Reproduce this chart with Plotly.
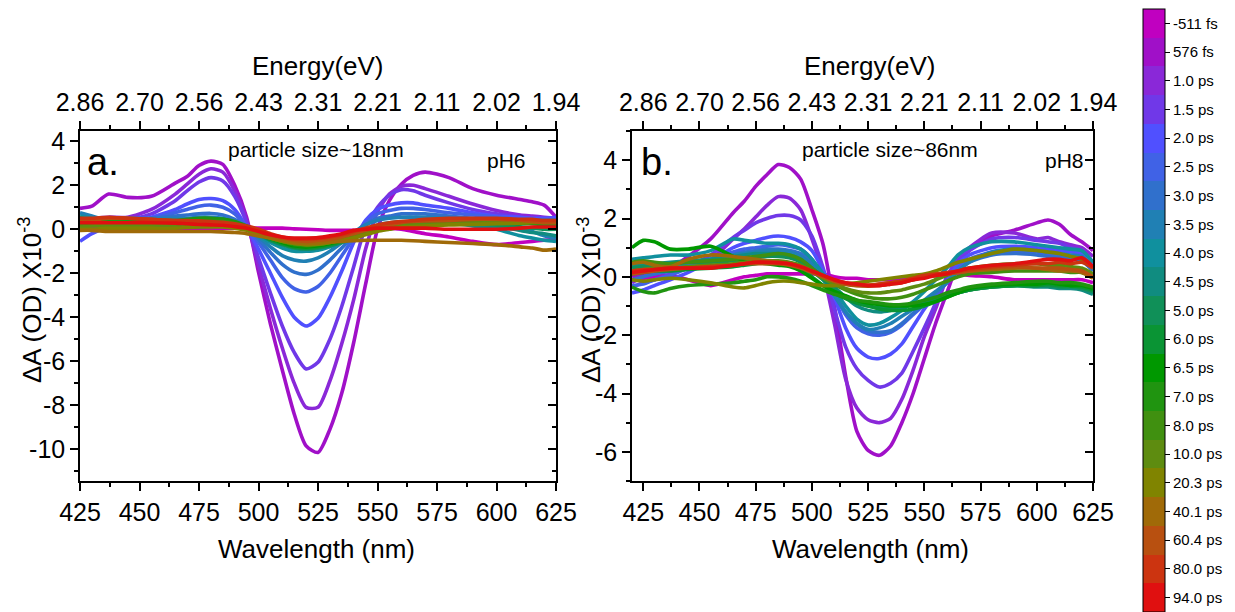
import plotly.graph_objects as go

FONT = "Liberation Sans, Arial, sans-serif"
W, H = 1235, 612

# ---------------- data ----------------
DELAY_LABELS = ["-511 fs", "576 fs", "1.0 ps", "1.5 ps", "2.0 ps", "2.5 ps", "3.0 ps",
                "3.5 ps", "4.0 ps", "4.5 ps", "5.0 ps", "6.0 ps", "6.5 ps", "7.0 ps",
                "8.0 ps", "10.0 ps", "20.3 ps", "40.1 ps", "60.4 ps", "80.0 ps", "94.0 ps"]
DELAY_COLORS = ["#C000C0", "#A010C8", "#8A28D8", "#7038E8", "#5050FF", "#4062E6", "#3070CC",
                "#2080B4", "#10909E", "#108C80", "#109058", "#0A9434", "#009800", "#209410",
                "#409010", "#5E8C10", "#808400", "#A06A08", "#B85010", "#CC3410", "#E01010"]

WL_TICKS = [425, 450, 475, 500, 525, 550, 575, 600, 625]
ENERGY_LABELS = ["2.86", "2.70", "2.56", "2.43", "2.31", "2.21", "2.11", "2.02", "1.94"]
YTICKS_A = [-10, -8, -6, -4, -2, 0, 2, 4]
YTICKS_B = [-6, -4, -2, 0, 2, 4]

# panel a (particle size ~18 nm, pH6)
WL_A = [425, 430, 437, 445, 455, 465, 470, 475, 480, 485, 490, 495, 500, 505, 510, 515, 520,
        525, 530, 535, 540, 545, 550, 555, 560, 565, 570, 580, 590, 600, 610, 615, 620, 625]
A_N511 = [0.15, 0.1, 0.1, 0.1, 0.05, 0.05, 0.05, 0.05, 0.05, 0.05, 0.05, 0.05, 0.05, 0.05, 0.05, 0.02, 0.0,
          -0.02, -0.05, -0.05, -0.05, 0.0, 0.05, 0.05, 0.0, -0.1, -0.2, -0.35, -0.55, -0.7, -0.6, -0.55, -0.5, -0.45]
A_576 = [0.95, 1.05, 1.6, 1.45, 1.5, 2.1, 2.4, 2.9, 3.1, 2.95, 2.0, 0.55, -1.95, -4.3, -6.4, -8.4, -9.85,
         -10.15, -9.1, -7.45, -5.15, -2.5, 0.0, 1.3, 2.05, 2.45, 2.6, 2.35, 1.85, 1.55, 1.35, 1.25, 1.1, 0.55]
A_1P0 = [0.45, 0.5, 0.55, 0.55, 0.9, 1.6, 2.05, 2.5, 2.75, 2.6, 1.75, 0.4, -1.65, -3.6, -5.4, -7.0, -8.1,
         -8.1, -6.9, -5.2, -3.2, -0.9, 0.8, 1.6, 1.95, 2.0, 1.85, 1.5, 1.15, 0.85, 0.65, 0.6, 0.55, 0.5]
A_1P5 = [0.3, 0.35, 0.4, 0.45, 0.7, 1.3, 1.75, 2.15, 2.35, 2.2, 1.5, 0.3, -1.3, -2.9, -4.4, -5.6, -6.35,
         -6.05, -5.0, -3.5, -1.7, 0.1, 1.0, 1.55, 1.8, 1.75, 1.55, 1.2, 0.9, 0.7, 0.55, 0.5, 0.5, 0.45]
A_2P0 = [-0.55, -0.2, 0.1, 0.3, 0.55, 0.9, 1.15, 1.35, 1.4, 1.3, 0.9, 0.1, -0.9, -2.0, -3.1, -4.0, -4.4,
         -4.05, -3.1, -1.9, -0.6, 0.4, 0.9, 1.1, 1.2, 1.2, 1.1, 0.95, 0.75, 0.6, 0.55, 0.5, 0.5, 0.55]
A_2P5 = [0.2, 0.3, 0.35, 0.4, 0.5, 0.75, 0.9, 1.05, 1.1, 1.0, 0.7, 0.1, -0.6, -1.4, -2.2, -2.7, -2.85,
         -2.6, -2.0, -1.2, -0.4, 0.3, 0.7, 0.85, 0.95, 0.95, 0.9, 0.75, 0.65, 0.55, 0.45, 0.45, 0.4, 0.4]
A_3P0 = [0.5, 0.5, 0.5, 0.5, 0.5, 0.6, 0.65, 0.7, 0.72, 0.65, 0.45, 0.05, -0.45, -1.05, -1.6, -1.95, -2.05,
         -1.85, -1.4, -0.85, -0.3, 0.2, 0.5, 0.6, 0.7, 0.7, 0.7, 0.6, 0.5, 0.45, 0.4, 0.35, 0.35, 0.35]
A_3P5 = [0.75, 0.6, 0.4, 0.4, 0.45, 0.5, 0.5, 0.55, 0.55, 0.5, 0.35, 0.0, -0.35, -0.8, -1.2, -1.4, -1.45,
         -1.3, -1.0, -0.6, -0.15, 0.2, 0.4, 0.5, 0.55, 0.55, 0.55, 0.5, 0.4, 0.3, 0.1, -0.1, -0.3, -0.4]
A_4P0 = [0.6, 0.5, 0.3, 0.25, 0.2, 0.2, 0.25, 0.3, 0.3, 0.3, 0.2, 0.0, -0.3, -0.6, -0.85, -1.0, -1.0,
         -0.95, -0.8, -0.55, -0.25, 0.0, 0.2, 0.3, 0.35, 0.35, 0.35, 0.3, 0.15, 0.0, -0.3, -0.4, -0.5, -0.55]
A_4P5 = [0.4, 0.35, 0.25, 0.2, 0.15, 0.1, 0.1, 0.12, 0.15, 0.15, 0.1, 0.0, -0.25, -0.5, -0.7, -0.85, -0.9,
         -0.85, -0.75, -0.55, -0.35, -0.1, 0.1, 0.2, 0.3, 0.3, 0.3, 0.3, 0.2, 0.1, -0.05, -0.15, -0.2, -0.3]
A_5P0 = [0.2, 0.2, 0.15, 0.15, 0.1, 0.1, 0.12, 0.15, 0.2, 0.2, 0.15, 0.0, -0.2, -0.5, -0.7, -0.85, -0.9,
         -0.85, -0.75, -0.6, -0.4, -0.2, 0.0, 0.12, 0.25, 0.28, 0.3, 0.3, 0.25, 0.2, 0.1, 0.05, 0.0, 0.0]
A_6P0 = [0.3, 0.3, 0.3, 0.25, 0.25, 0.25, 0.3, 0.3, 0.35, 0.35, 0.25, 0.05, -0.2, -0.45, -0.65, -0.8, -0.85,
         -0.8, -0.7, -0.55, -0.4, -0.2, -0.05, 0.1, 0.2, 0.25, 0.28, 0.3, 0.3, 0.3, 0.25, 0.25, 0.2, 0.2]
A_6P5 = [0.4, 0.4, 0.35, 0.35, 0.35, 0.35, 0.4, 0.45, 0.45, 0.45, 0.3, 0.1, -0.15, -0.4, -0.6, -0.75, -0.8,
         -0.75, -0.65, -0.5, -0.35, -0.15, 0.0, 0.15, 0.25, 0.3, 0.35, 0.4, 0.4, 0.35, 0.35, 0.3, 0.3, 0.3]
A_7P0 = [0.5, 0.45, 0.4, 0.4, 0.4, 0.4, 0.45, 0.5, 0.5, 0.45, 0.35, 0.15, -0.1, -0.35, -0.55, -0.7, -0.75,
         -0.7, -0.6, -0.45, -0.3, -0.1, 0.05, 0.2, 0.3, 0.35, 0.4, 0.45, 0.45, 0.4, 0.4, 0.35, 0.35, 0.35]
A_8P0 = [0.2, 0.25, 0.3, 0.3, 0.3, 0.3, 0.3, 0.35, 0.35, 0.35, 0.25, 0.05, -0.15, -0.4, -0.55, -0.65, -0.7,
         -0.65, -0.55, -0.45, -0.3, -0.15, 0.0, 0.1, 0.2, 0.25, 0.28, 0.3, 0.32, 0.35, 0.38, 0.4, 0.4, 0.4]
A_10P0 = [0.1, 0.15, 0.2, 0.2, 0.2, 0.2, 0.22, 0.25, 0.25, 0.25, 0.15, 0.0, -0.2, -0.4, -0.55, -0.65, -0.7,
          -0.68, -0.6, -0.5, -0.35, -0.2, -0.05, 0.05, 0.15, 0.2, 0.22, 0.25, 0.28, 0.3, 0.32, 0.35, 0.35, 0.35]
A_20P3 = [0.0, 0.0, 0.05, 0.05, 0.05, 0.05, 0.08, 0.1, 0.1, 0.1, 0.05, -0.05, -0.2, -0.4, -0.55, -0.65, -0.7,
          -0.68, -0.6, -0.5, -0.4, -0.25, -0.1, 0.0, 0.1, 0.12, 0.15, 0.2, 0.22, 0.25, 0.28, 0.3, 0.3, 0.3]
A_40P1 = [-0.05, -0.05, -0.1, -0.1, -0.1, -0.1, -0.1, -0.1, -0.1, -0.12, -0.15, -0.2, -0.3, -0.4, -0.5, -0.6, -0.65,
          -0.62, -0.58, -0.55, -0.52, -0.5, -0.5, -0.5, -0.5, -0.52, -0.55, -0.6, -0.65, -0.7, -0.8, -0.85, -0.95, -0.9]
A_60P4 = [0.35, 0.4, 0.5, 0.5, 0.45, 0.4, 0.35, 0.35, 0.3, 0.28, 0.2, 0.1, -0.05, -0.25, -0.4, -0.5, -0.55,
          -0.5, -0.45, -0.35, -0.2, -0.05, 0.1, 0.2, 0.3, 0.35, 0.38, 0.4, 0.45, 0.45, 0.4, 0.35, 0.3, 0.3]
A_80P0 = [0.5, 0.5, 0.55, 0.5, 0.45, 0.4, 0.4, 0.38, 0.35, 0.32, 0.25, 0.15, 0.0, -0.2, -0.35, -0.45, -0.45,
          -0.42, -0.35, -0.25, -0.1, 0.05, 0.2, 0.3, 0.35, 0.4, 0.45, 0.5, 0.5, 0.5, 0.45, 0.45, 0.4, 0.4]
A_94P0 = [0.3, 0.3, 0.3, 0.3, 0.3, 0.28, 0.25, 0.22, 0.2, 0.18, 0.12, 0.05, -0.1, -0.25, -0.35, -0.4, -0.4,
          -0.38, -0.3, -0.2, -0.05, 0.0, 0.05, 0.05, 0.05, 0.05, 0.05, 0.0, 0.0, 0.0, 0.05, 0.1, 0.1, 0.1]

# panel b (particle size ~86 nm, pH8)
WL_B = [420, 425, 430, 437, 445, 455, 465, 470, 475, 480, 485, 490, 495, 500, 505, 510, 515, 520,
        525, 530, 535, 540, 545, 550, 555, 560, 565, 570, 580, 590, 600, 605, 610, 615, 620, 625]
B_N511 = [-0.1, -0.05, 0.0, 0.05, -0.1, -0.3, -0.1, 0.0, 0.05, 0.1, 0.1, 0.1, 0.1, 0.1, 0.1, 0.0, -0.05, -0.05,
          -0.1, -0.1, -0.1, -0.05, 0.0, 0.05, 0.1, 0.1, 0.1, 0.05, 0.0, -0.1, -0.1, -0.1, -0.1, -0.1, -0.1, -0.2]
B_576 = [0.0, 0.1, 0.2, 0.3, 0.7, 1.3, 2.2, 2.6, 3.1, 3.5, 3.85, 3.75, 3.35, 2.3, 1.1, -1.0, -3.4, -5.3,
         -5.95, -6.12, -5.8, -5.0, -4.0, -2.8, -1.6, -0.55, 0.45, 0.9, 1.4, 1.6, 1.85, 1.95, 1.8, 1.45, 1.2, 0.9]
B_1P0 = [-0.2, 0.0, 0.1, 0.2, 0.35, 0.6, 1.3, 1.65, 2.05, 2.45, 2.75, 2.7, 2.3, 1.3, 0.15, -1.6, -3.5, -4.5,
         -4.9, -5.0, -4.85, -4.2, -3.2, -2.05, -1.1, -0.05, 0.6, 1.0, 1.5, 1.5, 1.3, 1.35, 1.2, 1.1, 1.0, 0.7]
B_1P5 = [-0.35, -0.2, -0.1, 0.1, 0.35, 0.75, 1.35, 1.6, 1.85, 2.0, 2.1, 2.1, 1.95, 1.4, 0.3, -1.1, -2.4, -3.15,
         -3.55, -3.78, -3.65, -3.3, -2.55, -1.75, -0.9, 0.0, 0.6, 0.9, 1.3, 1.35, 1.25, 1.2, 1.15, 1.0, 0.9, 0.5]
B_2P0 = [-0.55, -0.45, -0.3, -0.1, 0.15, 0.55, 1.0, 1.15, 1.25, 1.35, 1.4, 1.35, 1.2, 0.9, 0.2, -0.7, -1.75, -2.45,
         -2.75, -2.8, -2.65, -2.3, -1.7, -1.1, -0.6, -0.15, 0.45, 0.75, 1.0, 1.05, 1.0, 0.95, 0.9, 0.85, 0.8, 0.4]
B_2P5 = [-0.3, -0.25, -0.1, 0.05, 0.3, 0.6, 0.85, 0.95, 1.0, 1.05, 1.1, 1.05, 0.95, 0.6, 0.0, -0.6, -1.3, -1.75,
         -1.95, -2.0, -1.9, -1.65, -1.3, -0.95, -0.6, -0.2, 0.3, 0.6, 0.85, 0.9, 0.85, 0.8, 0.75, 0.7, 0.65, 0.3]
B_3P0 = [-0.1, 0.0, 0.1, 0.2, 0.35, 0.55, 0.75, 0.85, 0.9, 0.95, 0.95, 0.9, 0.8, 0.5, -0.05, -0.6, -1.2, -1.6,
         -1.85, -1.9, -1.85, -1.6, -1.25, -0.9, -0.55, -0.2, 0.2, 0.5, 0.75, 0.8, 0.75, 0.7, 0.65, 0.6, 0.55, 0.2]
B_3P5 = [0.2, 0.25, 0.3, 0.35, 0.45, 0.6, 0.75, 0.8, 0.85, 0.9, 0.9, 0.85, 0.7, 0.4, -0.1, -0.65, -1.2, -1.6,
         -1.8, -1.75, -1.6, -1.35, -1.1, -0.8, -0.5, -0.2, 0.2, 0.5, 0.85, 0.95, 0.9, 0.85, 0.8, 0.75, 0.7, 0.3]
B_4P0 = [0.6, 0.65, 0.7, 0.75, 0.75, 0.9, 1.3, 1.25, 1.2, 1.15, 1.15, 1.1, 0.95, 0.6, 0.1, -0.45, -1.0, -1.45,
         -1.65, -1.6, -1.4, -1.15, -0.85, -0.5, -0.1, 0.3, 0.75, 1.0, 1.2, 1.2, 1.1, 1.05, 1.0, 0.95, 0.9, 0.5]
B_4P5 = [0.4, 0.4, 0.45, 0.5, 0.55, 0.6, 0.7, 0.75, 0.8, 0.8, 0.8, 0.75, 0.6, 0.3, 0.0, -0.35, -0.7, -1.0,
         -1.15, -1.2, -1.15, -1.05, -0.95, -0.85, -0.75, -0.65, -0.55, -0.45, -0.35, -0.3, -0.35, -0.35, -0.4, -0.4, -0.45, -0.6]
B_5P0 = [0.3, 0.35, 0.4, 0.45, 0.5, 0.5, 0.55, 0.6, 0.65, 0.7, 0.7, 0.65, 0.5, 0.2, -0.1, -0.4, -0.7, -0.9,
         -1.0, -1.05, -1.05, -1.0, -0.95, -0.85, -0.75, -0.65, -0.55, -0.45, -0.35, -0.3, -0.3, -0.3, -0.35, -0.35, -0.4, -0.5]
B_6P0 = [0.1, 0.15, 0.2, 0.2, 0.25, 0.3, 0.35, 0.4, 0.45, 0.5, 0.5, 0.45, 0.3, 0.0, -0.3, -0.55, -0.75, -0.9,
         -1.0, -1.1, -1.15, -1.15, -1.1, -1.0, -0.85, -0.7, -0.55, -0.45, -0.35, -0.3, -0.3, -0.25, -0.3, -0.3, -0.35, -0.45]
B_6P5 = [1.0, 1.25, 1.2, 0.95, 0.95, 1.05, 0.7, 0.55, 0.5, 0.45, 0.4, 0.35, 0.2, -0.05, -0.3, -0.5, -0.65, -0.8,
         -0.9, -0.95, -1.0, -1.0, -1.0, -0.95, -0.85, -0.7, -0.55, -0.4, -0.3, -0.25, -0.25, -0.2, -0.25, -0.3, -0.3, -0.4]
B_7P0 = [-0.35, -0.5, -0.55, -0.4, -0.3, -0.25, -0.2, -0.15, -0.1, 0.0, 0.0, -0.05, -0.15, -0.3, -0.45, -0.6, -0.7, -0.8,
         -0.85, -0.9, -0.95, -0.95, -0.9, -0.8, -0.7, -0.55, -0.45, -0.35, -0.25, -0.2, -0.15, -0.15, -0.2, -0.2, -0.25, -0.35]
B_8P0 = [0.5, 0.55, 0.5, 0.45, 0.5, 0.55, 0.6, 0.65, 0.7, 0.75, 0.8, 0.75, 0.6, 0.3, 0.0, -0.25, -0.45, -0.6,
         -0.7, -0.75, -0.75, -0.7, -0.6, -0.45, -0.3, -0.15, 0.0, 0.1, 0.15, 0.2, 0.2, 0.2, 0.2, 0.15, 0.15, 0.0]
B_10P0 = [0.2, 0.25, 0.3, 0.3, 0.35, 0.4, 0.45, 0.5, 0.55, 0.55, 0.55, 0.5, 0.4, 0.2, -0.05, -0.25, -0.4, -0.5,
          -0.55, -0.55, -0.5, -0.45, -0.35, -0.25, -0.1, 0.05, 0.2, 0.3, 0.4, 0.45, 0.45, 0.4, 0.4, 0.35, 0.3, 0.1]
B_20P3 = [-0.1, -0.15, -0.1, -0.05, -0.1, -0.2, -0.35, -0.38, -0.3, -0.2, -0.15, -0.15, -0.2, -0.25, -0.3, -0.3, -0.25, -0.2,
          -0.15, -0.1, -0.05, 0.0, 0.05, 0.1, 0.2, 0.35, 0.5, 0.6, 0.8, 0.95, 0.9, 0.85, 0.8, 0.7, 0.6, 0.3]
B_40P1 = [0.45, 0.5, 0.4, 0.35, 0.6, 0.75, 0.7, 0.65, 0.6, 0.55, 0.5, 0.45, 0.35, 0.2, 0.0, -0.15, -0.25, -0.3,
          -0.3, -0.25, -0.2, -0.15, -0.1, 0.0, 0.05, 0.1, 0.15, 0.2, 0.25, 0.3, 0.3, 0.25, 0.2, 0.2, 0.15, -0.05]
B_60P4 = [0.1, 0.15, 0.2, 0.25, 0.3, 0.35, 0.4, 0.45, 0.45, 0.45, 0.45, 0.4, 0.3, 0.15, 0.0, -0.15, -0.25, -0.3,
          -0.32, -0.3, -0.25, -0.2, -0.1, 0.0, 0.05, 0.1, 0.15, 0.2, 0.3, 0.35, 0.3, 0.3, 0.3, 0.25, 0.2, 0.0]
B_80P0 = [0.2, 0.25, 0.25, 0.3, 0.3, 0.35, 0.4, 0.45, 0.5, 0.5, 0.5, 0.45, 0.35, 0.2, 0.05, -0.1, -0.2, -0.25,
          -0.28, -0.25, -0.2, -0.15, -0.05, 0.05, 0.1, 0.15, 0.2, 0.25, 0.35, 0.4, 0.45, 0.45, 0.5, 0.45, 0.5, 0.3]
B_94P0 = [0.15, 0.2, 0.25, 0.3, 0.3, 0.3, 0.4, 0.45, 0.5, 0.5, 0.48, 0.45, 0.35, 0.2, 0.05, -0.1, -0.2, -0.25,
          -0.3, -0.3, -0.25, -0.2, -0.1, -0.05, 0.05, 0.1, 0.2, 0.3, 0.4, 0.45, 0.55, 0.6, 0.6, 0.55, 0.65, 0.35]

CURVES_A = [A_N511, A_576, A_1P0, A_1P5, A_2P0, A_2P5, A_3P0, A_3P5, A_4P0, A_4P5, A_5P0,
            A_6P0, A_6P5, A_7P0, A_8P0, A_10P0, A_20P3, A_40P1, A_60P4, A_80P0, A_94P0]
CURVES_B = [B_N511, B_576, B_1P0, B_1P5, B_2P0, B_2P5, B_3P0, B_3P5, B_4P0, B_4P5, B_5P0,
            B_6P0, B_6P5, B_7P0, B_8P0, B_10P0, B_20P3, B_40P1, B_60P4, B_80P0, B_94P0]

# ---------------- layout helpers ----------------
def px_x(a, b):
    return [a / W, b / W]

def px_y(top, bottom):
    return [1 - bottom / H, 1 - top / H]

PANEL_TOP, PANEL_BOTTOM = 131, 481
A_LEFT, A_RIGHT = 80, 556
B_LEFT, B_RIGHT = 632, 1093

TICKFONT = dict(family=FONT, size=25, color="black")
LINE_W = 3.6

def minor(direction, dtick, tick0):
    return dict(ticks=direction, ticklen=4, tickwidth=1.5, tickcolor="black", showgrid=False,
                dtick=dtick, tick0=tick0)

def base_axis(**kw):
    d = dict(showline=True, linecolor="black", linewidth=1.5, showgrid=False, zeroline=False,
             ticks="outside", ticklen=8, tickwidth=1.5, tickcolor="black", tickfont=TICKFONT,
             automargin=False, fixedrange=True, tickmode="array")
    d.update(kw)
    return d

def hyphen(v):
    return str(v).replace("\u2212", "-")

fig = go.Figure()

for vals, col in zip(CURVES_A, DELAY_COLORS):
    fig.add_trace(go.Scatter(x=WL_A, y=vals, mode="lines", xaxis="x", yaxis="y",
                             line=dict(color=col, width=LINE_W, shape="spline", smoothing=0.7),
                             showlegend=False, hoverinfo="skip"))
for vals, col in zip(CURVES_B, DELAY_COLORS):
    fig.add_trace(go.Scatter(x=WL_B, y=vals, mode="lines", xaxis="x3", yaxis="y3",
                             line=dict(color=col, width=LINE_W, shape="spline", smoothing=0.7),
                             showlegend=False, hoverinfo="skip"))

# empty traces so that the top (energy) axes and right mirror axes get drawn
for xa, ya in [("x2", "y"), ("x", "y2"), ("x4", "y3"), ("x3", "y4")]:
    fig.add_trace(go.Scatter(x=[None], y=[None], mode="lines", xaxis=xa, yaxis=ya,
                             showlegend=False, hoverinfo="skip"))

# discrete colour bar
n = len(DELAY_COLORS)
rev_colors = DELAY_COLORS[::-1]
cscale = []
for i, c in enumerate(rev_colors):
    cscale.append([i / n, c])
    cscale.append([(i + 1) / n, c])
fig.add_trace(go.Scatter(
    x=[None], y=[None], mode="markers", xaxis="x", yaxis="y", showlegend=False, hoverinfo="skip",
    marker=dict(color=[0], cmin=0, cmax=n, colorscale=cscale, showscale=True,
                colorbar=dict(x=1143 / W, xanchor="left", y=1 - 9 / H, yanchor="top",
                              len=603, lenmode="pixels", thickness=22, thicknessmode="pixels",
                              outlinewidth=1, outlinecolor="black", xpad=0, ypad=0,
                              tickmode="array",
                              tickvals=[i + 0.5 for i in range(n)], ticktext=DELAY_LABELS[::-1],
                              ticks="outside", ticklen=5, tickcolor="black", tickwidth=1,
                              tickfont=dict(family=FONT, size=15, color="black")))))

fig.update_layout(
    width=W, height=H, paper_bgcolor="white", plot_bgcolor="white",
    margin=dict(l=0, r=0, t=0, b=0, autoexpand=False), showlegend=False,
    font=dict(family=FONT, color="black"),
    # panel a
    xaxis=base_axis(domain=px_x(A_LEFT, A_RIGHT), anchor="y", range=[425, 625],
                    tickvals=WL_TICKS, ticktext=[str(v) for v in WL_TICKS],
                    minor=minor("outside", 12.5, 425)),
    xaxis2=base_axis(domain=px_x(A_LEFT, A_RIGHT), anchor="y", overlaying="x", side="top",
                     range=[425, 625], tickvals=WL_TICKS, ticktext=ENERGY_LABELS,
                     minor=minor("outside", 12.5, 425)),
    yaxis=base_axis(domain=px_y(PANEL_TOP, PANEL_BOTTOM), anchor="x", range=[-11.45, 4.47],
                    tickvals=YTICKS_A, ticktext=[hyphen(v) for v in YTICKS_A],
                    minor=minor("outside", 1, 0)),
    yaxis2=base_axis(domain=px_y(PANEL_TOP, PANEL_BOTTOM), anchor="x", overlaying="y", side="right",
                     range=[-11.45, 4.47], tickvals=YTICKS_A, ticks="inside", showticklabels=False,
                     minor=minor("inside", 1, 0)),
    # panel b
    xaxis3=base_axis(domain=px_x(B_LEFT, B_RIGHT), anchor="y3", range=[420, 625],
                     tickvals=WL_TICKS, ticktext=[str(v) for v in WL_TICKS],
                     minor=minor("outside", 12.5, 425)),
    xaxis4=base_axis(domain=px_x(B_LEFT, B_RIGHT), anchor="y3", overlaying="x3", side="top",
                     range=[420, 625], tickvals=WL_TICKS, ticktext=ENERGY_LABELS,
                     minor=minor("outside", 12.5, 425)),
    yaxis3=base_axis(domain=px_y(PANEL_TOP, PANEL_BOTTOM), anchor="x3", range=[-7, 5],
                     tickvals=YTICKS_B, ticktext=[hyphen(v) for v in YTICKS_B],
                     minor=minor("outside", 1, 0)),
    yaxis4=base_axis(domain=px_y(PANEL_TOP, PANEL_BOTTOM), anchor="x3", overlaying="y3", side="right",
                     range=[-7, 5], tickvals=YTICKS_B, ticks="inside", showticklabels=False,
                     minor=minor("inside", 1, 0)),
)

def ann(text, x, y, size, angle=0):
    fig.add_annotation(text=text, x=x / W, y=1 - y / H, xref="paper", yref="paper",
                       showarrow=False, xanchor="center", yanchor="middle", textangle=angle,
                       font=dict(family=FONT, size=size, color="black"))

YTITLE = "ΔA (OD) X10<sup>-3</sup>"
ann("Energy(eV)", 318, 66, 26)
ann("Energy(eV)", 870, 66, 26)
ann("Wavelength (nm)", 316, 549, 26)
ann("Wavelength (nm)", 870, 549, 26)
ann(YTITLE, 30, 300, 26, -90)
ann(YTITLE, 589, 300, 26, -90)
ann("a.", 103, 162, 38)
ann("b.", 657, 162, 38)
ann("particle size~18nm", 316, 149, 21)
ann("particle size~86nm", 890, 149, 21)
ann("pH6", 506, 161, 21)
ann("pH8", 1064, 161, 21)

fig.write_html("out.html", config={"displayModeBar": False},
               post_script="document.body.style.margin='0px';")
